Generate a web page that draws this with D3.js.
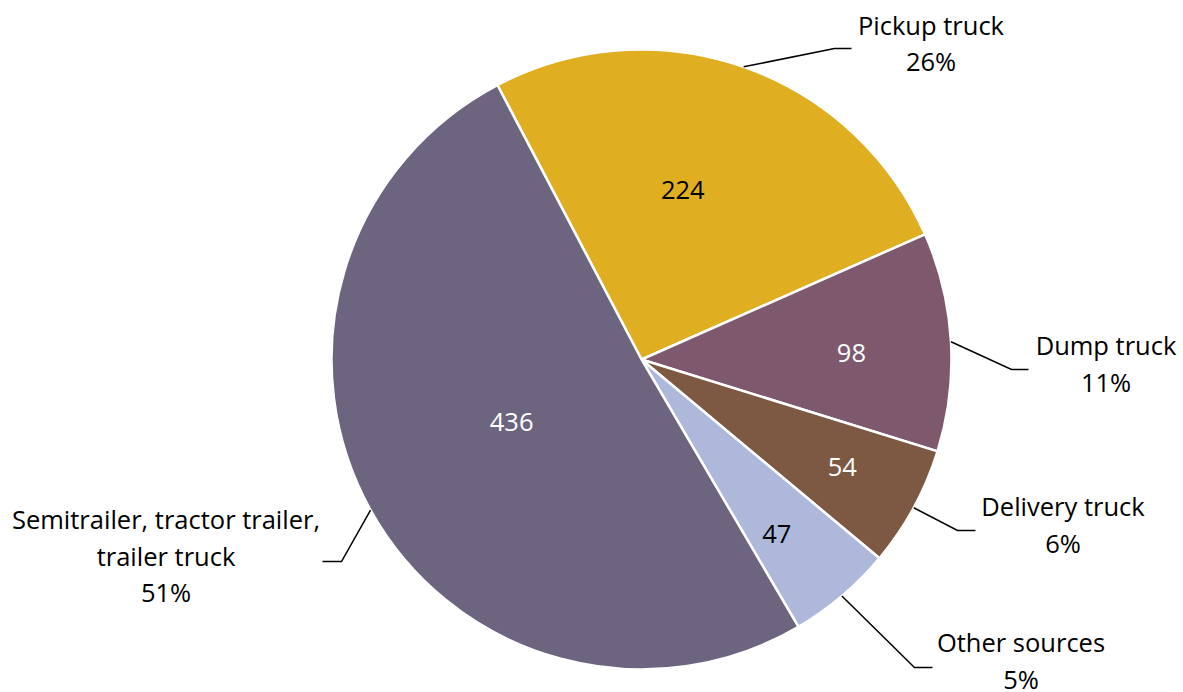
<!DOCTYPE html>
<html>
<head>
<meta charset="utf-8">
<script src="https://cdn.jsdelivr.net/npm/d3@7"></script>
<style>
  html, body { margin: 0; padding: 0; background: #fff; }
  svg text { font-family: "Open Sans", "Noto Sans", sans-serif; }
</style>
</head>
<body>
<svg id="chart" width="1183" height="692"></svg>
<script>
// Truck types, counts and shares
const categories = ["Pickup truck", "Dump truck", "Delivery truck", "Other sources", "Semitrailer, tractor trailer, trailer truck"];
const counts = [224, 98, 54, 47, 436];
const shares = ["26%", "11%", "6%", "5%", "51%"];
const colors = ["#DFAE21", "#7E596D", "#7D5842", "#ADB8DB", "#6D6480"];
const valueColors = ["#000", "#fff", "#fff", "#000", "#fff"];

// Outer label lines (label text wrapped manually)
const labelLines = [
  ["Pickup truck"],
  ["Dump truck"],
  ["Delivery truck"],
  ["Other sources"],
  ["Semitrailer, tractor trailer,", "trailer truck"]
];

// Layout of the value labels (radius, angular nudge in degrees)
const valueLabelRadius = [174, 210, 228, 221, 144];
const valueLabelNudge = [-5.5, 1.5, -0.3, 2.5, 3.5];
// Leader line elbow (offset from centre) and label text centre
const elbows = [[193, -311], [370, 10], [316, 171], [273, 308], [-300, 202]];
const elbowTail = [17, 17, 18, 18, -19];
const labelCentres = [[289.5, -315.5], [464.5, 5], [421.5, 166], [379.5, 302], [-475.5, 197.5]];

const width = 1183, height = 692;
const cx = 641.5, cy = 359.5, radius = 310;
const lineH = 36.5;
const fontSize = 25.5;

const svg = d3.select("#chart");
const g = svg.append("g").attr("transform", `translate(${cx},${cy})`);

const data = categories.map((c, i) => ({ cat: c, value: counts[i], i }));
const startAngle = -27.7 * Math.PI / 180;
const pie = d3.pie().value(d => d.value).sort(null)
  .startAngle(startAngle).endAngle(startAngle + 2 * Math.PI);
const arcs = pie(data);
const arc = d3.arc().innerRadius(0).outerRadius(radius);

g.selectAll("path.slice").data(arcs).join("path")
  .attr("class", "slice")
  .attr("d", arc)
  .attr("fill", d => colors[d.data.i])
  .attr("stroke", "#fff")
  .attr("stroke-width", 2.5)
  .attr("stroke-linejoin", "miter");

// Value labels inside slices
const labelAngle = d => (d.startAngle + d.endAngle) / 2 + valueLabelNudge[d.data.i] * Math.PI / 180;
g.selectAll("text.value").data(arcs).join("text")
  .attr("class", "value")
  .attr("x", d => valueLabelRadius[d.data.i] * Math.sin(labelAngle(d)))
  .attr("y", d => -valueLabelRadius[d.data.i] * Math.cos(labelAngle(d)))
  .attr("dy", "0.35em")
  .attr("text-anchor", "middle")
  .attr("font-size", fontSize)
  .attr("fill", d => valueColors[d.data.i])
  .text(d => d.data.value);

// Leader lines
g.selectAll("polyline.leader").data(arcs).join("polyline")
  .attr("class", "leader")
  .attr("fill", "none")
  .attr("stroke", "#000")
  .attr("stroke-width", 1.5)
  .attr("points", d => {
    const a = (d.startAngle + d.endAngle) / 2;
    const p0 = [radius * Math.sin(a), -radius * Math.cos(a)];
    const e = elbows[d.data.i];
    const p2 = [e[0] + elbowTail[d.data.i], e[1]];
    return [p0, e, p2].map(p => p.join(",")).join(" ");
  });

// Outer category labels with percentages
const labels = g.selectAll("text.cat").data(arcs).join("text")
  .attr("class", "cat")
  .attr("text-anchor", "middle")
  .attr("font-size", fontSize)
  .attr("fill", "#000");

labels.each(function(d) {
  const i = d.data.i;
  const lines = labelLines[i].concat([shares[i]]);
  const [lx, ly] = labelCentres[i];
  const top = ly - (lines.length - 1) * lineH / 2;
  d3.select(this).selectAll("tspan").data(lines).join("tspan")
    .attr("x", lx)
    .attr("y", (t, k) => top + k * lineH)
    .attr("dy", "0.35em")
    .text(t => t);
});
</script>
</body>
</html>
